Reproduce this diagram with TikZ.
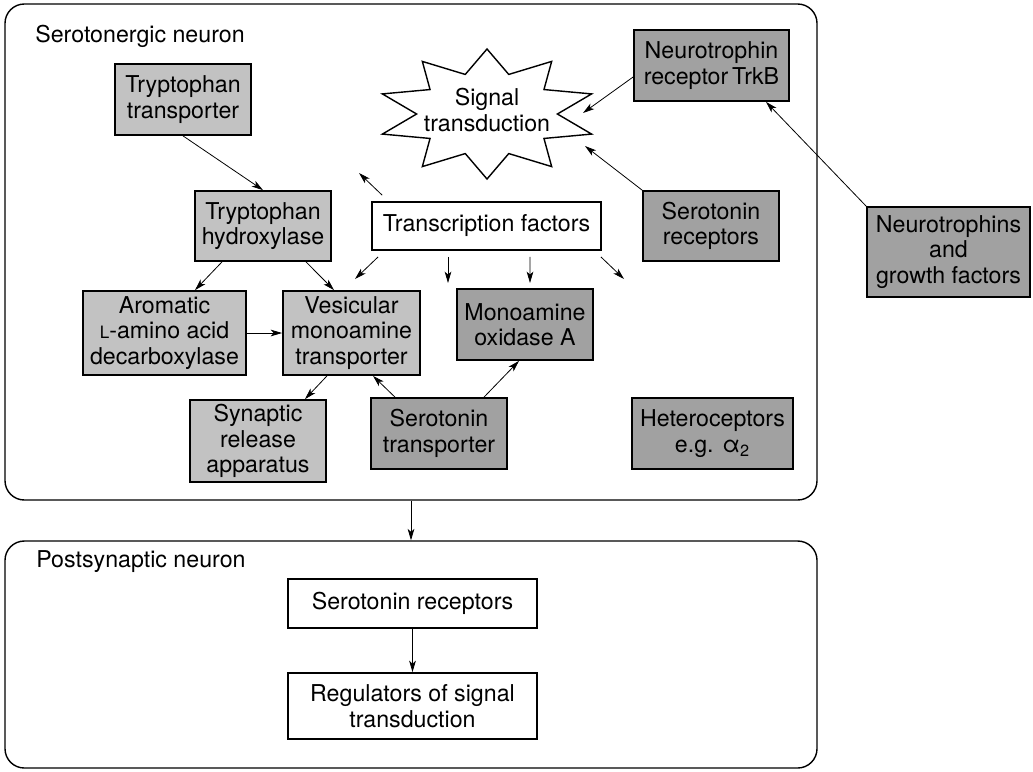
\documentclass[tikz,border=0pt]{standalone}
\usepackage{fontspec}
\setmainfont{TeX Gyre Heros}
\usepackage{tikz}
\usetikzlibrary{calc}
\usetikzlibrary{arrows.meta}
\definecolor{lgray}{gray}{0.76}
\definecolor{dgray}{gray}{0.63}
\tikzset{
  txt/.style={font=\fontsize{13.2pt}{14.5pt}\selectfont, align=center, inner sep=0pt},
  lbox/.style={txt, draw, line width=1pt, fill=lgray},
  dbox/.style={txt, draw, line width=1pt, fill=dgray},
  wbox/.style={txt, draw, line width=1pt, fill=white},
  neuron/.style={draw, line width=0.8pt, rounded corners=11pt, inner sep=0pt},
  arr/.style={-{Stealth[length=6.5pt,width=3.8pt,inset=1.7pt]}, line width=0.45pt}
}
\newcommand{\gbox}[7]{\node[#1, minimum width=#5*0.02cm, minimum height=#6*0.02cm] (#2) at (#3,#4) {#7};}
\newcommand{\smallL}{{\fontsize{9.7pt}{14.5pt}\selectfont L}}

\begin{document}
\begin{tikzpicture}[x=0.02cm,y=-0.02cm]
        \useasboundingbox (0,0) rectangle (1033,771);
        \gbox{neuron}{sero}{411}{252}{812}{496}{}
        \gbox{neuron}{post}{411}{654.5}{812}{227}{}
        \node[txt, anchor=west] (serolab) at (35,36) {Serotonergic neuron};
        \node[txt, anchor=west] (postlab) at (36,562) {Postsynaptic neuron};
        \draw[line width=0.8pt, fill=white] plot[samples at={0,...,19}] ({487+110*cos(90+18*\x)*(1-0.36*mod(\x,2))},{114-65*sin(90+18*\x)*(1-0.36*mod(\x,2))}) -- cycle;
        \node[txt] (sig) at (487,110) {Signal\\transduction};
        \coordinate (sigE) at (583,113);
        \coordinate (sigSE) at (585,146);
        \gbox{lbox}{trpT}{183}{99.5}{136}{71}{Tryptophan\\transporter}
        \gbox{lbox}{trpH}{263}{226}{136}{70}{Tryptophan\\hydroxylase}
        \gbox{lbox}{aadc}{164.5}{333}{163}{84}{Aromatic\\\smallL-amino acid\\decarboxylase}
        \gbox{lbox}{vmat}{351.5}{333}{137}{84}{Vesicular\\monoamine\\transporter}
        \gbox{lbox}{syn}{258}{441}{136}{82}{Synaptic\\release\\apparatus}
        \gbox{dbox}{sert}{439}{433.5}{136}{71}{Serotonin\\transporter}
        \gbox{dbox}{mao}{525}{324.5}{136}{71}{Monoamine\\oxidase A}
        \gbox{wbox}{tf}{486.5}{226}{229}{48}{Transcription factors}
        \gbox{dbox}{trkb}{711.5}{65.5}{155}{71}{Neurotrophin\\receptor\,TrkB}
        \gbox{dbox}{htr}{711}{226}{136}{70}{Serotonin\\receptors}
        \gbox{dbox}{ntf}{948.5}{252}{163}{90}{Neurotrophins\\and\\growth factors}
        \gbox{dbox}{het}{712.5}{433.5}{161}{71}{Heteroceptors\\e.g. α\textsubscript{2}}
        \gbox{wbox}{psr}{412.5}{603.5}{249}{49}{Serotonin receptors}
        \gbox{wbox}{reg}{412.5}{706}{249}{66}{Regulators of signal\\transduction}
        \coordinate (tfNW) at (359,173);
        \coordinate (tfSW) at (355,279);
        \coordinate (tfS1) at (448,283);
        \coordinate (tfS2) at (530,283);
        \coordinate (tfSE) at (624,279);
        \draw[arr] (trpT.south) -- (trpH.north);
        \draw[arr] ($(trpH.south)+(-41,0)$) -- ($(aadc.north)+(30.5,0)$);
        \draw[arr] ($(trpH.south)+(43,0)$) -- ($(vmat.north)+(-17.5,0)$);
        \draw[arr] (aadc.east) -- (vmat.west);
        \draw[arr] ($(vmat.south)+(-24.5,0)$) -- ($(syn.north)+(47,0)$);
        \draw[arr] ($(sert.north)+(-44,0)$) -- ($(vmat.south)+(21.5,0)$);
        \draw[arr] ($(sert.north)+(45,0)$) -- ($(mao.south)+(-6,0)$);
        \draw[arr] ($(tf.north west)+(11,-6)$) -- (tfNW);
        \draw[arr] ($(tf.south west)+(7,6)$) -- (tfSW);
        \draw[arr] ($(tf.south)+(-38.5,6)$) -- (tfS1);
        \draw[arr] ($(tf.south)+(43.5,6)$) -- (tfS2);
        \draw[arr] ($(tf.south east)+(-1,6)$) -- (tfSE);
        \draw[arr] ($(trkb.west)+(0,11.5)$) -- (sigE);
        \draw[arr] (htr.north west) -- (sigSE);
        \draw[arr] (ntf.north west) -- ($(trkb.south)+(54.5,0)$);
        \draw[arr] (sero.south) -- (post.north);
        \draw[arr] (psr.south) -- (reg.north);
    \end{tikzpicture}
\end{document}
